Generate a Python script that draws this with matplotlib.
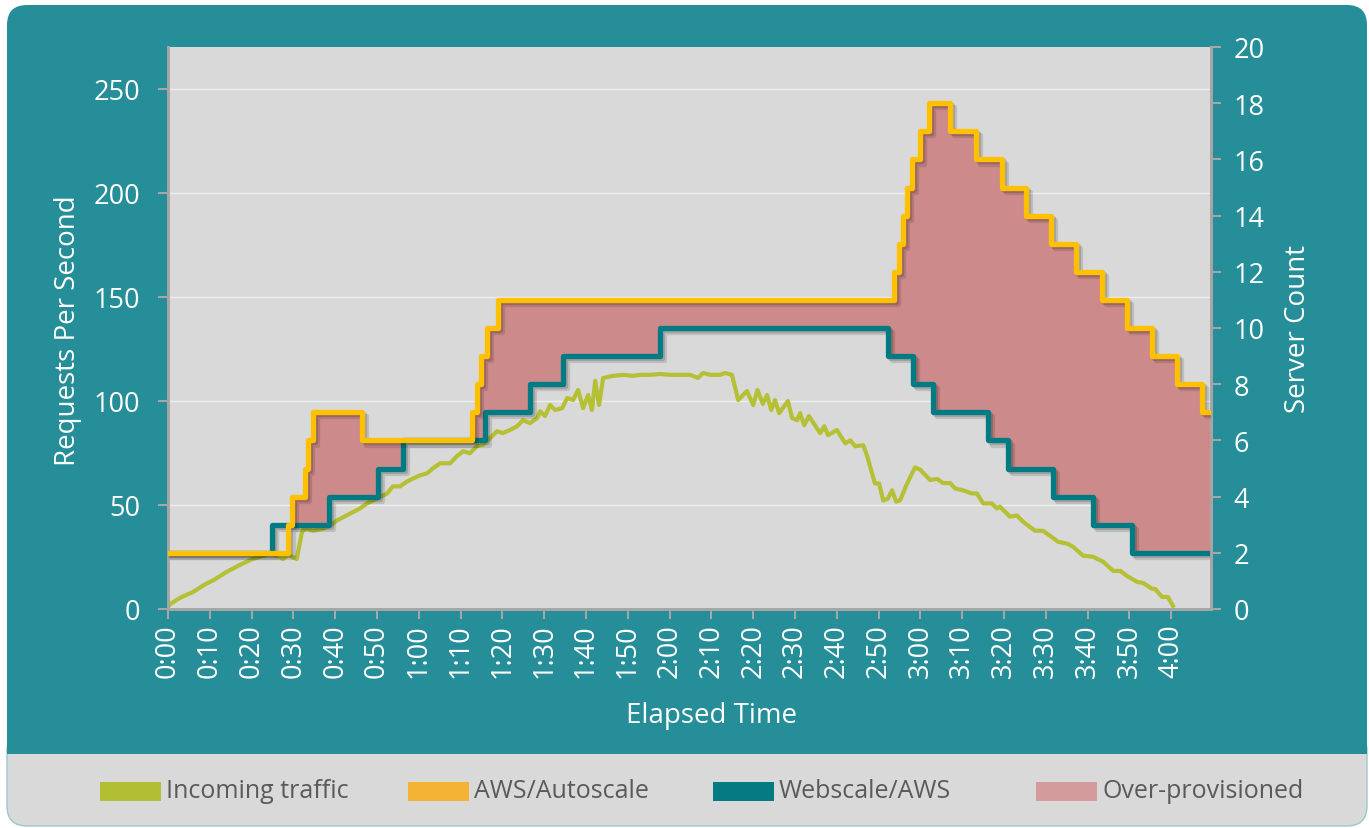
import numpy as np
import matplotlib
matplotlib.use("Agg")
import matplotlib.pyplot as plt
import matplotlib.patheffects as pe
from matplotlib.patches import FancyBboxPatch, Rectangle

plt.rcParams['font.family'] = ['Open Sans', 'DejaVu Sans']

# incoming traffic, requests per second (minutes, rps)
traffic_min = [0, 0.5, 3, 6, 9, 11, 14.1, 17, 20.3, 24.4, 26, 27.5, 28.7, 30.8, 32.1, 33.2, 34.7,
               37.1, 38.8, 40.4, 43.5, 45.9, 47.6, 50, 52.4, 53.8, 55.5, 57.2, 58.6, 60.3, 62,
               63.4, 65.1, 67.5, 69.1, 70.6, 72.2, 73.9, 75.4, 77, 78.7, 80.1, 81.8, 83.5, 84.9,
               86.6, 88.3, 89, 90.2, 91.4, 92.6, 94.3, 95.5, 96.9, 98.1, 99.3, 100.5, 101.4,
               102.2, 103.1, 104.1, 106.5, 108.9, 111.2, 112.9, 115.3, 117.7, 120.1, 122.5,
               124.9, 126.8, 128, 129.7, 132.1, 133.3, 134.9, 136.4, 138.5, 140, 141, 142.3,
               143.3, 144.3, 145.2, 146.2, 148.3, 149.3, 150.5, 151.2, 152.2, 153.3, 156, 157,
               157.9, 160, 162, 163.2, 164.4, 166.3, 167.2, 169.1, 170.1, 171.1, 172.2, 173.2,
               174.2, 175.1, 176.8, 178.7, 179.9, 182.3, 184, 185.4, 187.1, 188.3, 190.2, 192.3,
               193.5, 195, 197.1, 198.3, 199, 201.4, 203.1, 204.5, 207.4, 209.3, 211, 212.9,
               215.1, 216.5, 218.9, 221.3, 223.7, 226.1, 227.8, 229.4, 231.8, 233.3, 235.4,
               236.1, 237.8, 239.2, 240.4]
traffic_rps = [1, 2.4, 5.5, 8.2, 12, 14, 17.9, 21, 24.1, 26.5, 25.6, 24, 26, 24, 37.6, 38.6, 37.6,
               38.6, 40, 42.5, 45.8, 48.3, 50.7, 53, 55.5, 58.9, 58.9, 61.3, 62.7, 64.2, 65.2,
               67.6, 70, 70, 73.4, 75.8, 74.8, 78.2, 79, 82, 85.4, 84.5, 86, 87.8, 90.7,
               89.3, 91.7, 95, 92.7, 98, 95.6, 96.5, 101.4, 100.4, 105.2, 96.5, 102.8, 95.6,
               109.6, 98, 111, 112, 112.5, 112, 112.5, 112.5, 112.9, 112.5, 112.5,
               112.5, 111, 113.4, 112.5, 112.5, 113.4, 112.5, 100.4, 104.7, 98, 105.2, 98.5,
               102.8, 95.6, 100.4, 94.1, 99.9, 91.7, 90.7, 94.1, 88.3, 92.7, 84.5, 87.8,
               83.5, 86, 79.6, 81, 78.2, 78.7, 73.8, 60.3, 60.3, 52.1, 53, 57,
               51.6, 52.1, 60.3, 68, 67, 62, 62.5, 60.5, 60.5, 57.9, 57, 55.5,
               55.5, 50.7, 50.7, 48.3, 49.2, 44.4, 44.9, 42, 37.6, 37.6, 35.2, 32.3,
               31.4, 29.9, 25.6, 25.1, 22.7, 18.3, 18.3, 15.9, 13, 12.5, 9.7,
               9.7, 5.8, 5.8, 1.5]

# server counts: minute at which the count changes, and the new count
auto_min = [0, 28.8, 29.6, 32.8, 33.5, 34.7, 46.4, 72.7, 73.9, 74.9, 76.3, 79, 173.7, 174.9,
            175.8, 176.8, 177.9, 179.9, 182.1, 187.1, 193.3, 199.5, 205.3, 211.2, 217.2,
            223.4, 229.4, 235.4, 241.4, 247.4]
auto_servers = [2, 3, 4, 5, 6, 7, 6, 7, 8, 9, 10, 11, 12, 13, 14, 15, 16, 17, 18, 17, 16, 15, 14,
                13, 12, 11, 10, 9, 8, 7]
web_min = [0, 24.9, 38.5, 50.3, 56.2, 75.8, 86.6, 94.5, 117.7, 172.2, 178.2, 183, 196.2, 201,
           211.7, 221.3, 230.6]
web_servers = [2, 3, 4, 5, 6, 7, 8, 9, 10, 9, 8, 7, 6, 5, 4, 3, 2]

x_end = 249.5
tick_min = list(range(0, 241, 10))
tick_labels = ["%d:%02d" % (m // 60, m % 60) for m in tick_min]

legend_labels = ["Incoming traffic", "AWS/Autoscale", "Webscale/AWS", "Over-provisioned"]
legend_colors = ["#b3bf32", "#f5b335", "#057a82", "#d39b9b"]

c_teal_bg = "#258e98"
c_plot = "#d9d9d9"
c_green = "#b5c034"
c_yellow = "#ffc000"
c_teal = "#007b83"
c_fill = "#cd8a8a"


def step_values(times, levels, grid):
    idx = np.searchsorted(times, grid, side='right') - 1
    return np.array(levels)[idx]


fig = plt.figure(figsize=(13.69, 8.29), dpi=100)
fig.patch.set_facecolor("white")

# panel background: teal with rounded corners, grey legend band at the bottom
fig.add_artist(FancyBboxPatch((0.07, 0.02), 13.60, 8.21, boxstyle="round,pad=0,rounding_size=0.2",
                              transform=fig.dpi_scale_trans, fc=c_teal_bg, ec="none", zorder=-10))
fig.add_artist(FancyBboxPatch((0.07, 0.02), 13.60, 0.95, boxstyle="round,pad=0,rounding_size=0.2",
                              transform=fig.dpi_scale_trans, fc="#d9d9d9", ec="#9cc9cc", lw=1, zorder=-9))
fig.add_artist(Rectangle((0.07, 0.74), 13.60, 0.4, transform=fig.dpi_scale_trans,
                         fc=c_teal_bg, ec="none", zorder=-8))

ax = fig.add_axes([168 / 1369, 1 - 610 / 829, (1211 - 168) / 1369, (610 - 48) / 829])
ax.set_facecolor(c_plot)
ax2 = ax.twinx()

ax.set_xlim(0, x_end)
ax.set_ylim(0, 270)
ax2.set_ylim(0, 20)

ax.set_yticks(range(0, 251, 50))
ax2.set_yticks(range(0, 21, 2))
ax.set_xticks(tick_min)
ax.set_xticklabels(tick_labels, rotation=90)
ax.grid(axis='y', color="#eeeeee", lw=1)
ax.set_axisbelow(True)

for a in (ax, ax2):
    for s in a.spines.values():
        s.set_color("#a6a6a6")
        s.set_linewidth(2)
    a.spines['top'].set_visible(False)
    a.tick_params(colors="#a6a6a6", labelcolor="white", labelsize=19.5, length=7, width=1.5)
ax.tick_params(axis='x', pad=3)
ax.tick_params(axis='y', pad=13)
ax2.tick_params(axis='y', pad=9)

ax.set_ylabel("Requests Per Second", color="white", fontsize=20)
ax.yaxis.set_label_coords(-0.082, 0.497)
ax2.set_ylabel("Server Count", color="white", fontsize=20, labelpad=14)
ax.set_xlabel("Elapsed Time", color="white", fontsize=20)
ax.xaxis.set_label_coords(0.521, -0.163)

# traffic line
ax.plot(traffic_min, traffic_rps, color=c_green, lw=3, solid_joinstyle='round', zorder=3)

# server count steps and the over-provisioned band
grid = np.unique(np.concatenate([auto_min, web_min, [x_end]]))
auto_vals = step_values(auto_min, auto_servers, grid)
web_vals = step_values(web_min, web_servers, grid)
ax2.fill_between(grid, web_vals, np.maximum(auto_vals, web_vals), step='post',
                 color=c_fill, lw=0, zorder=1)

shadow = [pe.SimpleLineShadow(offset=(3, -3), shadow_color='k', alpha=0.12),
          pe.SimpleLineShadow(offset=(1.5, -1.5), shadow_color='k', alpha=0.15),
          pe.Normal()]
ax2.step(grid, web_vals, where='post', color=c_teal, lw=3.8, zorder=2, path_effects=shadow)
ax2.step(grid, auto_vals, where='post', color=c_yellow, lw=3.8, zorder=3, path_effects=shadow)

# legend drawn by hand in the grey band
legend_x = [100, 408, 713, 1036]
for x, lab, col in zip(legend_x, legend_labels, legend_colors):
    fig.add_artist(Rectangle((x / 100, 0.27), 0.61, 0.19, transform=fig.dpi_scale_trans,
                             fc=col, ec="none"))
    fig.text((x + 66) / 1369, 1 - 792 / 829, lab, color="#5a5a5a", fontsize=18, va='center')

fig.savefig("out.png", dpi=100)
